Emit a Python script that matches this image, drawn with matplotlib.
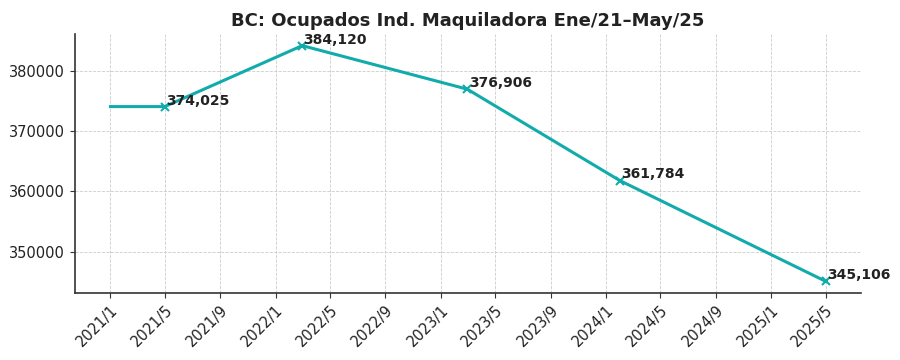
import matplotlib
matplotlib.use("Agg")
import matplotlib.pyplot as plt
import matplotlib.dates as mdates
from matplotlib.ticker import FuncFormatter
import pandas as pd

# Data
fechas = ["2021-01-01", "2021-05-01", "2022-03-01", "2023-03-01", "2024-02-01", "2025-05-01"]
ocupados = [374025, 374025, 384120, 376906, 361784, 345106]
etiquetas = ["", "374,025", "384,120", "376,906", "361,784", "345,106"]

x = pd.to_datetime(fechas)
color = "#12abab"

fig, ax = plt.subplots(figsize=(9, 3.6), dpi=100)
fig.subplots_adjust(left=0.083, right=0.957, top=0.906, bottom=0.186)

ax.plot(x, ocupados, color=color, linewidth=2.2, marker="x", markersize=6,
        markeredgewidth=1.5, markevery=list(range(1, len(x))))

for xi, yi, lab in zip(x, ocupados, etiquetas):
    if lab:
        ax.annotate(lab, (xi, yi), xytext=(1, 1.5), textcoords="offset points",
                    ha="left", va="baseline", fontsize=10, fontweight="bold", color="#222222")

ax.set_title("BC: Ocupados Ind. Maquiladora Ene/21–May/25", fontsize=13,
             fontweight="bold", color="#222222")

ax.xaxis.set_major_locator(mdates.MonthLocator(bymonth=[1, 5, 9]))
ax.xaxis.set_major_formatter(FuncFormatter(lambda v, p: "%d/%d" % (mdates.num2date(v).year, mdates.num2date(v).month)))
plt.setp(ax.get_xticklabels(), rotation=45, ha="right", rotation_mode="anchor")

ax.grid(True, linestyle="--", linewidth=0.6, color="#cccccc")
ax.set_axisbelow(True)
for s in ["top", "right"]:
    ax.spines[s].set_visible(False)
for s in ["left", "bottom"]:
    ax.spines[s].set_color("#333333")
    ax.spines[s].set_linewidth(1.2)
ax.tick_params(labelsize=10.5, colors="#333333", labelcolor="#222222")

fig.savefig("out.png", dpi=100)
